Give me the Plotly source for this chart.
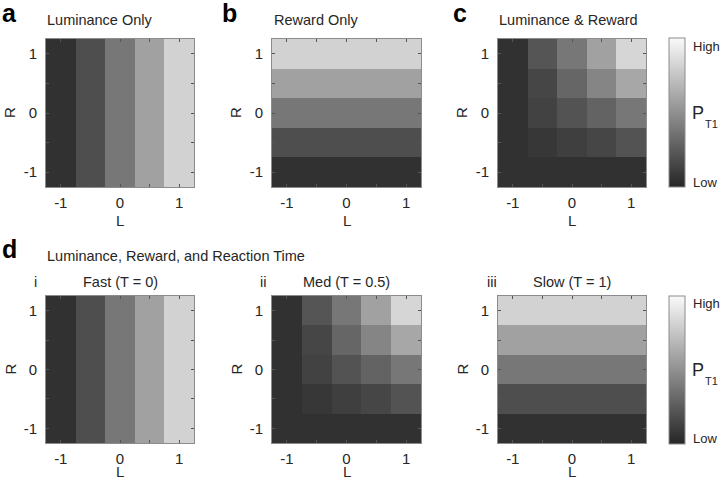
import plotly.graph_objects as go

# ---------------- data ----------------
L_vals = [-1, -0.5, 0, 0.5, 1]
R_vals = [-1, -0.5, 0, 0.5, 1]
tick_text = ["-1", "", "0", "", "1"]

# rows: R = -1 .. 1 (bottom to top); columns: L = -1 .. 1
lum_only = [
    [0.05, 0.19, 0.38, 0.58, 0.81],
    [0.05, 0.19, 0.38, 0.58, 0.81],
    [0.05, 0.19, 0.38, 0.58, 0.81],
    [0.05, 0.19, 0.38, 0.58, 0.81],
    [0.05, 0.19, 0.38, 0.58, 0.81],
]
rew_only = [
    [0.05, 0.05, 0.05, 0.05, 0.05],
    [0.19, 0.19, 0.19, 0.19, 0.19],
    [0.38, 0.38, 0.38, 0.38, 0.38],
    [0.58, 0.58, 0.58, 0.58, 0.58],
    [0.81, 0.81, 0.81, 0.81, 0.81],
]
lum_rew = [
    [0.05, 0.05, 0.05, 0.05, 0.05],
    [0.05, 0.08, 0.12, 0.15, 0.21],
    [0.05, 0.13, 0.21, 0.29, 0.38],
    [0.05, 0.15, 0.30, 0.45, 0.61],
    [0.05, 0.22, 0.38, 0.58, 0.83],
]
med_rt = [
    [0.05, 0.05, 0.05, 0.05, 0.05],
    [0.05, 0.08, 0.12, 0.15, 0.21],
    [0.05, 0.13, 0.21, 0.29, 0.38],
    [0.05, 0.15, 0.30, 0.45, 0.61],
    [0.05, 0.22, 0.38, 0.58, 0.83],
]
fast_rt = lum_only
slow_rt = rew_only

W, H = 720, 481
FONT = "Liberation Sans, Arial, sans-serif"
TXT = "#262626"
cscale = [[0, "rgb(38,38,38)"], [1, "rgb(250,250,250)"]]

# panel pixel boxes (left, top, right, bottom)
boxes = [
    (46, 39, 194, 187), (272, 39, 421, 187), (498, 39, 646, 187),
    (46, 296, 194, 443), (272, 296, 421, 443), (498, 296, 646, 443),
]
mats = [lum_only, rew_only, lum_rew, fast_rt, med_rt, slow_rt]

def px(x):
    return x / W

def py(y):
    return 1 - y / H

fig = go.Figure()
layout = {}
for i, (m, b) in enumerate(zip(mats, boxes)):
    n = "" if i == 0 else str(i + 1)
    show = i in (2, 5)
    cb = None
    l, t, r, bt = b
    if show:
        cb = dict(
            x=px(669), xanchor="left", xpad=0, thickness=16, thicknessmode="pixels",
            y=py((t + bt) / 2), yanchor="middle", len=(bt - t + 1) / H, lenmode="fraction",
            ypad=0, outlinecolor="#8c8c8c", outlinewidth=1, showticklabels=False,
            ticks="",
        )
    fig.add_trace(go.Heatmap(
        z=m, x=L_vals, y=R_vals, xaxis="x" + n, yaxis="y" + n,
        colorscale=cscale, zmin=0, zmax=1, showscale=show, colorbar=cb,
        hoverinfo="skip",
    ))
    ax = dict(
        range=[-1.25, 1.25], tickvals=L_vals, ticktext=tick_text, ticks="inside",
        ticklen=3, tickcolor="#555", tickwidth=1, showline=True, linecolor="#8c8c8c",
        linewidth=1, mirror="ticks", showgrid=False, zeroline=False,
        tickfont=dict(family=FONT, size=15, color=TXT), fixedrange=True,
    )
    layout["xaxis" + n] = dict(ax, domain=[px(l), px(r)], anchor="y" + n, ticklabelstandoff=2)
    layout["yaxis" + n] = dict(ax, domain=[py(bt), py(t)], anchor="x" + n, ticklabelstandoff=5)

ann = []
def text(x, y, s, size=14, xanchor="center", bold=False, angle=0):
    ann.append(dict(
        x=px(x), y=py(y), xref="paper", yref="paper", text=("<b>%s</b>" % s) if bold else s,
        showarrow=False, xanchor=xanchor, yanchor="middle", textangle=angle,
        font=dict(family=FONT, size=size, color="#000" if bold else TXT),
    ))

# panel letters
text(0, 13, "a", 25, "left", True)
text(220, 13, "b", 25, "left", True)
text(451, 13, "c", 25, "left", True)
text(0, 249, "d", 25, "left", True)

# titles
TS = 14.5
text(45, 20, "Luminance Only", TS, "left")
text(272, 20, "Reward Only", TS, "left")
text(497, 20, "Luminance & Reward", TS, "left")
text(45, 256, "Luminance, Reward, and Reaction Time", TS, "left")
text(35, 282, "i", TS, "center")
text(120, 282, "Fast (T = 0)", TS, "center")
text(263, 282, "ii", TS, "center")
text(346, 282, "Med (T = 0.5)", TS, "center")
text(492, 282, "iii", TS, "center")
text(572, 282, "Slow (T = 1)", TS, "center")

# axis labels
for k, (l, t, r, bt) in enumerate(boxes):
    text((l + r) / 2, 220 if k < 3 else 471, "L", 15)
    text(l - 36, (t + bt) / 2, "R", 15, angle=-90)

# colorbar labels
for (t, bt) in [(39, 187), (296, 443)]:
    text(691, t + 7, "High", 13, "left")
    text(691, bt - 5, "Low", 13, "left")
    mid = (t + bt) / 2
    text(690, mid, "P", 18, "left")
    text(703, mid + 11, "T1", 11, "left")

fig.update_layout(
    width=W, height=H, margin=dict(l=0, r=0, t=0, b=0),
    paper_bgcolor="white", plot_bgcolor="white", showlegend=False,
    annotations=ann, **layout,
)
fig.write_html("out.html", post_script="document.body.style.margin='0';",
               config={"displayModeBar": False})
